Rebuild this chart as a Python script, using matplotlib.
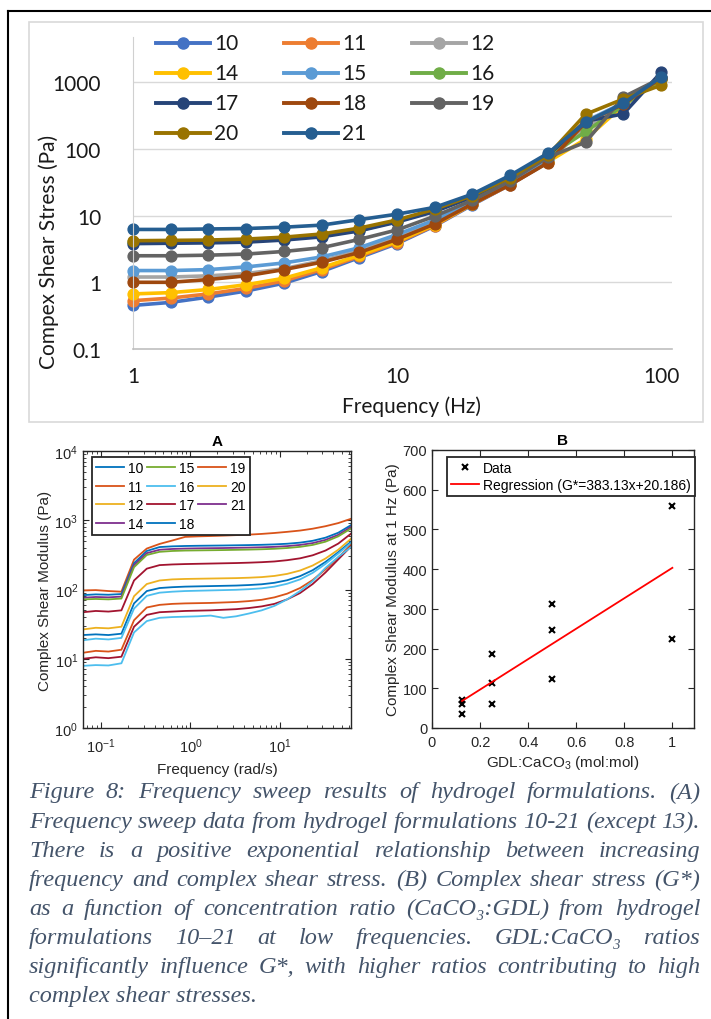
import numpy as np
import matplotlib
matplotlib.use('Agg')
import matplotlib.pyplot as plt
from matplotlib.lines import Line2D
from matplotlib.patches import Rectangle
from matplotlib.ticker import LogLocator, NullFormatter

# ---- data: top chart (Excel style) ----
freq_hz = [1, 1.39, 1.93, 2.68, 3.73, 5.18, 7.20, 10, 13.9, 19.3, 26.8, 37.3, 51.8, 72.0, 100]
top_names = ['10', '11', '12', '14', '15', '16', '17', '18', '19', '20', '21']
top_colors = ['#4472C4', '#ED7D31', '#A5A5A5', '#FFC000', '#5B9BD5', '#70AD47',
              '#264478', '#9E480E', '#636363', '#997300', '#255E91']
s10 = [0.45, 0.50, 0.60, 0.74, 0.97, 1.45, 2.35, 3.8, 7.0, 14.5, 29, 63, 240, 480, 1150]
s11 = [0.53, 0.58, 0.67, 0.81, 1.05, 1.55, 2.45, 3.95, 7.1, 14.8, 29, 64, 230, 500, 1100]
s12 = [1.2, 1.2, 1.25, 1.35, 1.6, 2.1, 3.0, 4.7, 8.0, 15.5, 31, 68, 200, 520, 1150]
s14 = [0.67, 0.70, 0.78, 0.92, 1.15, 1.65, 2.55, 4.1, 7.3, 15, 30, 64, 140, 450, 1100]
s15 = [1.5, 1.5, 1.55, 1.7, 1.95, 2.4, 3.3, 5.2, 8.6, 16, 32, 70, 260, 490, 1200]
s16 = [4.0, 4.05, 4.1, 4.2, 4.5, 5.0, 6.0, 8.2, 11.8, 19, 36, 78, 180, 450, 1100]
s17 = [3.8, 3.85, 3.9, 4.0, 4.3, 4.8, 5.9, 8.0, 11.5, 19, 36, 80, 260, 335, 1400]
s18 = [1.0, 1.0, 1.1, 1.25, 1.55, 2.0, 2.8, 4.4, 7.5, 15, 29, 62, 250, 470, 1150]
s19 = [2.5, 2.5, 2.55, 2.65, 2.9, 3.3, 4.4, 6.1, 9.8, 17, 33, 75, 126, 600, 1150]
s20 = [4.2, 4.25, 4.3, 4.45, 4.75, 5.3, 6.5, 8.6, 12.5, 20, 37, 80, 330, 560, 900]
s21 = [6.2, 6.2, 6.3, 6.4, 6.7, 7.2, 8.7, 10.5, 13.3, 21, 40, 86, 250, 480, 1200]
top_series = [s10, s11, s12, s14, s15, s16, s17, s18, s19, s20, s21]

# ---- data: panel A (MATLAB) ----
rad_s = [0.0628, 0.0873, 0.121, 0.169, 0.234, 0.325, 0.452, 0.628, 0.873, 1.21, 1.69,
         2.34, 3.25, 4.52, 6.28, 8.73, 12.1, 16.9, 23.4, 32.5, 45.2, 62.8]
a_colors = ['#D95319', '#0072BD', '#7E2F8E', '#77AC30', '#A2142F', '#EDB120',
            '#0072BD', '#4DBEEE', '#D95319', '#A2142F', '#4DBEEE']
a1 = [97, 98, 95, 93, 270, 390, 455, 510, 575, 585, 592, 600, 610, 620, 635, 655, 680, 710, 755, 820, 910, 1050]
a2 = [83, 85, 84, 86, 240, 360, 410, 420, 425, 428, 430, 432, 435, 438, 442, 448, 458, 475, 505, 560, 660, 850]
a3 = [76, 78, 77, 79, 225, 335, 375, 385, 390, 393, 395, 397, 400, 403, 407, 413, 423, 440, 468, 520, 615, 800]
a4 = [72, 73, 72, 74, 210, 315, 350, 360, 365, 367, 369, 371, 374, 377, 381, 387, 397, 413, 440, 490, 585, 760]
a5 = [47, 49, 48, 50, 135, 200, 225, 230, 233, 235, 237, 239, 241, 244, 248, 254, 265, 282, 312, 365, 460, 640]
a6 = [26.5, 28, 27.5, 29, 80, 120, 135, 140, 142, 143, 144, 145, 146, 148, 151, 157, 168, 188, 222, 280, 375, 540]
a7 = [22, 22.5, 22, 23, 63, 95, 105, 108, 110, 111, 112, 113, 114, 116, 119, 125, 136, 156, 190, 250, 345, 490]
a8 = [18.5, 19.5, 19, 20, 53, 81, 90, 93, 95, 96, 97, 98, 99, 101, 104, 110, 121, 140, 174, 234, 330, 470]
a9 = [12.2, 13, 12.7, 13.5, 36, 55, 60, 62, 63, 63.5, 64, 65, 66, 68, 71, 77, 87, 105, 137, 195, 290, 440]
a10 = [10, 10.5, 10.2, 10.7, 29, 43, 47, 48, 49, 49.5, 50, 51, 52, 54, 57, 62, 72, 89, 120, 176, 272, 420]
a11 = [7.9, 8.1, 8.0, 8.6, 24, 35, 39, 40, 40.5, 41, 42, 39, 41, 45, 50, 58, 72, 95, 132, 205, 295, 410]
a_curves = [a1, a2, a3, a4, a5, a6, a7, a8, a9, a10, a11]
a_leg_names = ['10', '11', '12', '14', '15', '16', '17', '18', '19', '20', '21']
a_leg_colors = ['#0072BD', '#D95319', '#EDB120', '#7E2F8E', '#77AC30', '#4DBEEE',
                '#A2142F', '#0072BD', '#D95319', '#EDB120', '#7E2F8E']

# ---- data: panel B ----
ratio = [0.125, 0.125, 0.125, 0.25, 0.25, 0.25, 0.5, 0.5, 0.5, 1.0, 1.0]
gstar = [70, 60, 35, 187, 113, 60, 312, 247, 124, 560, 225]
fit_slope, fit_icpt = 383.13, 20.186
fit_x = [0.125, 1.0]

caption = [
    "Figure 8: Frequency sweep results of hydrogel formulations. (A)",
    "Frequency sweep data from hydrogel formulations 10-21 (except 13).",
    "There is a positive exponential relationship between increasing",
    "frequency and complex shear stress. (B) Complex shear stress (G*)",
    "as a function of concentration ratio (CaCO\u2083:GDL) from hydrogel",
    "formulations 10\u201321 at low frequencies. GDL:CaCO\u2083 ratios",
    "significantly influence G*, with higher ratios contributing to high",
    "complex shear stresses.",
]

W, H = 711, 1020
def fx(x):
    return x / W
def fy(y):
    return 1 - y / H

plt.rcParams['mathtext.fontset'] = 'custom'
plt.rcParams['mathtext.rm'] = 'Liberation Sans'
plt.rcParams['mathtext.it'] = 'Liberation Sans:italic'
plt.rcParams['mathtext.bf'] = 'Liberation Sans:bold'
plt.rcParams['font.family'] = ['Liberation Sans', 'DejaVu Sans']

fig = plt.figure(figsize=(7.11, 10.2), dpi=100)

# page borders
fig.add_artist(Line2D([fx(8), fx(8)], [fy(12), fy(1020)], color='black', lw=1.5))
fig.add_artist(Line2D([fx(8), 1.0], [fy(12), fy(12)], color='black', lw=1.5))
fig.add_artist(Rectangle((fx(29), fy(423)), fx(703) - fx(29), fy(23) - fy(423),
                         fill=False, ec='#d9d9d9', lw=1.2))

# ---------- top chart ----------
excel_font = ['Lato', 'DejaVu Sans']
ax = fig.add_axes([fx(133), fy(350), fx(672) - fx(133), fy(38) - fy(350)])
for vals, col in zip(top_series, top_colors):
    ax.plot(freq_hz, vals, color=col, lw=2.6, marker='o', ms=7.8, clip_on=False)
ax.set_xscale('log')
ax.set_yscale('log')
ax.set_xlim(1, 10 ** (2 + 11 / 264))
ax.set_ylim(0.1, 10 ** (-1 + 312 / 66.7))
ax.set_yticks([0.1, 1, 10, 100, 1000])
ax.set_yticklabels(['0.1', '1', '10', '100', '1000'], family=excel_font, fontsize=15)
ax.set_xticks([1, 10, 100])
ax.set_xticklabels(['1', '10', '100'], family=excel_font, fontsize=15)
ax.minorticks_off()
ax.tick_params(length=0, colors='#1a1a1a')
ax.tick_params(axis='y', pad=23)
ax.tick_params(axis='x', pad=12)
for yv in [1, 10, 100, 1000]:
    ax.axhline(yv, color='#d9d9d9', lw=1.0, zorder=0)
ax.spines['top'].set_visible(False)
ax.spines['right'].set_visible(False)
ax.spines['left'].set_color('#d0d0d0')
ax.spines['bottom'].set_color('#bfbfbf')
ax.spines['bottom'].set_linewidth(1.2)
ax.set_zorder(1)
fig.text(fx(411), fy(407), 'Frequency (Hz)', family=excel_font, fontsize=15,
         ha='center', va='center', color='#1a1a1a')
fig.text(fx(49), fy(252), 'Compex Shear Stress (Pa)', family=excel_font, fontsize=15,
         ha='center', va='center', rotation=90, color='#1a1a1a')

# legend (rows filled left to right, like Excel)
leg_cols = [156, 284, 412]
leg_rows = [44, 74, 104, 134]
for i, (name, col) in enumerate(zip(top_names, top_colors)):
    r, c = divmod(i, 3)
    x0, y0 = leg_cols[c], leg_rows[r]
    fig.add_artist(Line2D([fx(x0), fx(x0 + 27), fx(x0 + 54)], [fy(y0)] * 3, color=col,
                          lw=2.8, marker='o', ms=8, markevery=[1], zorder=5))
    fig.text(fx(x0 + 58), fy(y0), name, family=excel_font, fontsize=15,
             ha='left', va='center', color='#1a1a1a', zorder=5)

# ---------- panel A ----------
dark = '#262626'
axA = fig.add_axes([fx(83), fy(729), fx(351) - fx(83), fy(452) - fy(729)])
for vals, col in zip(a_curves, a_colors):
    axA.plot(rad_s, vals, color=col, lw=1.3)
axA.set_xscale('log')
axA.set_yscale('log')
axA.set_xlim(0.0628, 62.8)
axA.set_ylim(1, 1e4)
axA.xaxis.set_major_locator(LogLocator(base=10, numticks=10))
axA.yaxis.set_major_locator(LogLocator(base=10, numticks=10))
axA.xaxis.set_minor_locator(LogLocator(base=10, subs=np.arange(2, 10), numticks=10))
axA.yaxis.set_minor_locator(LogLocator(base=10, subs=np.arange(2, 10), numticks=10))
axA.xaxis.set_minor_formatter(NullFormatter())
axA.yaxis.set_minor_formatter(NullFormatter())
axA.tick_params(which='both', direction='in', top=True, right=True, colors=dark, labelsize=10.5)
axA.tick_params(which='major', length=4, width=0.8)
axA.tick_params(which='minor', length=2, width=0.6)
axA.tick_params(axis='x', which='major', pad=6)
for sp in axA.spines.values():
    sp.set_color(dark)
    sp.set_linewidth(1.0)
axA.set_xlabel('Frequency (rad/s)', fontsize=11, color=dark, labelpad=5)
axA.set_ylabel('Complex Shear Modulus (Pa)', fontsize=11, color=dark, labelpad=2)
axA.set_title('A', fontsize=11, fontweight='bold', color='black', pad=4)
handlesA = [Line2D([], [], color=c, lw=1.3) for c in a_leg_colors]
legA = axA.legend(handlesA, a_leg_names, ncol=3, loc='upper left',
                  bbox_to_anchor=(0.034, 0.978), borderaxespad=0, fontsize=10,
                  handlelength=2.0, handletextpad=0.3, columnspacing=0.25,
                  labelspacing=0.32, borderpad=0.3, fancybox=False,
                  edgecolor=dark, framealpha=1)
legA.get_frame().set_linewidth(1.3)

# ---------- panel B ----------
axB = fig.add_axes([fx(432), fy(729), fx(694) - fx(432), fy(451) - fy(729)])
axB.plot(ratio, gstar, 'x', color='black', ms=4.5, mew=1.5, label='Data')
fit_y = [fit_slope * v + fit_icpt for v in fit_x]
axB.plot(fit_x, fit_y, color='red', lw=1.3,
         label='Regression (G*=%.2fx+%.3f)' % (fit_slope, fit_icpt))
axB.set_xlim(0, 1.09)
axB.set_ylim(0, 700)
axB.set_xticks([0, 0.2, 0.4, 0.6, 0.8, 1.0])
axB.set_xticklabels(['0', '0.2', '0.4', '0.6', '0.8', '1'])
axB.set_yticks(range(0, 701, 100))
axB.tick_params(direction='in', top=True, right=True, colors=dark, labelsize=10.5,
                length=4, width=0.8)
axB.tick_params(axis='x', pad=5)
for sp in axB.spines.values():
    sp.set_color(dark)
    sp.set_linewidth(1.0)
axB.set_xlabel('GDL:CaCO$_3$ (mol:mol)', fontsize=11, color=dark, labelpad=3)
axB.set_ylabel('Complex Shear Modulus at 1 Hz (Pa)', fontsize=11, color=dark, labelpad=2)
axB.set_title('B', fontsize=11, fontweight='bold', color='black', pad=4)
legB = axB.legend(loc='upper left', bbox_to_anchor=(0.057, 0.975), borderaxespad=0,
                  fontsize=10, handlelength=2.0, handletextpad=0.3, labelspacing=0.2,
                  borderpad=0.3, fancybox=False, edgecolor=dark, framealpha=1)
legB.get_frame().set_linewidth(1.3)

# ---------- caption, justified ----------
cap_font = dict(family=['Liberation Serif', 'DejaVu Serif'], style='italic',
                fontsize=17.5, color='#44546A', va='center', ha='left')
renderer = fig.canvas.get_renderer()
x_left, x_right = 29, 700
for i, line in enumerate(caption):
    y = fy(793 + 29.1 * i)
    if i == len(caption) - 1:
        fig.text(fx(x_left), y, line, **cap_font)
        continue
    words = line.split(' ')
    texts = [fig.text(0, y, w, **cap_font) for w in words]
    widths = [t.get_window_extent(renderer).width for t in texts]
    gap = (x_right - x_left - sum(widths)) / (len(words) - 1)
    xpos = x_left
    for t, wd in zip(texts, widths):
        t.set_x(fx(xpos))
        xpos += wd + gap

fig.savefig('out.png', dpi=100)
